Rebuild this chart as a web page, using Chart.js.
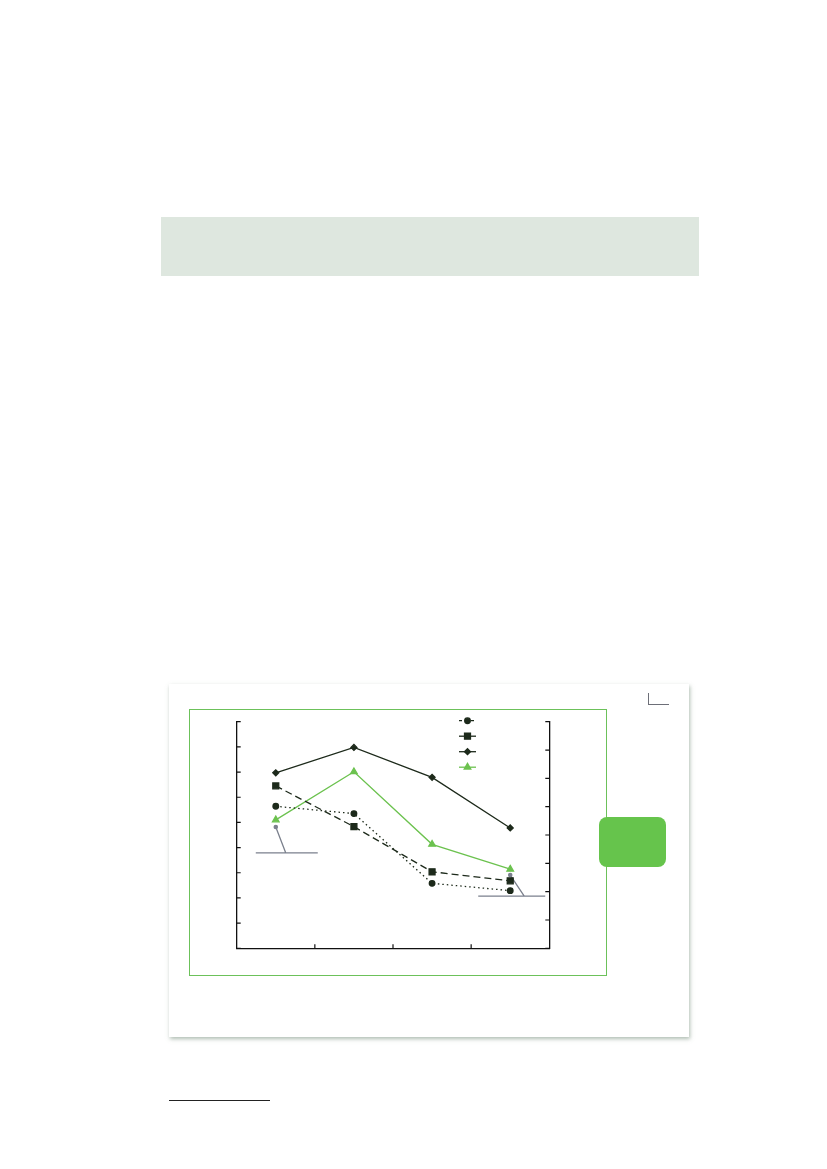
<!DOCTYPE html>
<html>
<head>
<meta charset="utf-8">
<script src="https://cdn.jsdelivr.net/npm/chart.js@4.4.0/dist/chart.umd.min.js"></script>
<style>
  html, body { margin: 0; padding: 0; background: #fff; }
  body { width: 827px; height: 1169px; position: relative; overflow: hidden; font-family: "Noto Sans", sans-serif; }
  .header-band { position: absolute; left: 161px; top: 217px; width: 538px; height: 59px; background: #dee7df; }
  .card { position: absolute; left: 169px; top: 684px; width: 520px; height: 353px; background: #fff;
          box-shadow: 1px 2px 4px rgba(110, 135, 115, 0.55); }
  .frame { position: absolute; left: 189px; top: 709px; width: 416px; height: 265px; border: 1.2px solid #6cc15a; }
  .corner { position: absolute; left: 648px; top: 693px; width: 20px; height: 11px;
            border-left: 1.2px solid #6d6f78; border-bottom: 1.2px solid #6d6f78; }
  .tab { position: absolute; left: 599px; top: 817px; width: 67px; height: 50px; background: #66c44c; border-radius: 8px; }
  .chart-box { position: absolute; left: 189px; top: 709px; width: 418px; height: 267px; }
  .footnote-rule { position: absolute; left: 169px; top: 1100px; width: 101px; height: 1.3px; background: #222; }
</style>
</head>
<body>
<div class="header-band"></div>
<div class="card"></div>
<div class="frame"></div>
<div class="corner"></div>
<div class="chart-box"><canvas id="lineChart"></canvas></div>
<div class="tab"></div>
<div class="footnote-rule"></div>

<script>
// Data (left axis in units of one tick interval)
const categories = ['1', '2', '3', '4'];
const circleSeries = [5.64, 5.35, 2.58, 2.29];
const squareSeries = [6.45, 4.83, 3.04, 2.68];
const diamondSeries = [6.97, 7.98, 6.79, 4.78];
const triangleSeries = [5.10, 7.01, 4.13, 3.14];
const calloutPoints = [4.82, null, null, 2.91];

const leftTicks = { min: 0, max: 9, step: 1 };
const rightTicks = { min: 0, max: 8, step: 1 };

const DARK = '#1d2a1b';
const GREEN = '#6cc24f';
const GREY = '#7b808d';

// Inward tick marks on all three axes, drawn from the scales
const tickMarks = {
    id: 'tickMarks',
    afterDraw(chart) {
        const { ctx, chartArea, scales } = chart;
        const len = 4;
        ctx.save();
        ctx.strokeStyle = '#111';
        ctx.lineWidth = 1.2;
        ctx.beginPath();
        scales.y.ticks.forEach((t, i) => {
            const y = scales.y.getPixelForTick(i);
            ctx.moveTo(chartArea.left, y);
            ctx.lineTo(chartArea.left + len, y);
        });
        scales.y2.ticks.forEach((t, i) => {
            const y = scales.y2.getPixelForTick(i);
            ctx.moveTo(chartArea.right, y);
            ctx.lineTo(chartArea.right - len, y);
        });
        for (let i = 0; i < categories.length - 1; i++) {
            const x = (scales.x.getPixelForValue(i) + scales.x.getPixelForValue(i + 1)) / 2;
            ctx.moveTo(x, chartArea.bottom);
            ctx.lineTo(x, chartArea.bottom - len);
        }
        ctx.stroke();
        ctx.restore();
    }
};

// Leader lines from the grey callout dots
const callouts = {
    id: 'callouts',
    beforeDatasetsDraw(chart) {
        const meta = chart.getDatasetMeta(4);
        const legs = [
            { dx: 10, dy: 26, from: -20, to: 42 },
            null, null,
            { dx: 14, dy: 21, from: -32, to: 35 }
        ];
        const ctx = chart.ctx;
        ctx.save();
        ctx.strokeStyle = GREY;
        ctx.lineWidth = 1.3;
        meta.data.forEach((pt, i) => {
            const leg = legs[i];
            if (!leg || calloutPoints[i] == null) return;
            ctx.beginPath();
            ctx.moveTo(pt.x, pt.y);
            ctx.lineTo(pt.x + leg.dx, pt.y + leg.dy);
            ctx.moveTo(pt.x + leg.from, pt.y + leg.dy);
            ctx.lineTo(pt.x + leg.to, pt.y + leg.dy);
            ctx.stroke();
        });
        ctx.restore();
    }
};

// Legend samples (line + marker), label text is blank in the source
const sampleLegend = {
    id: 'sampleLegend',
    afterDraw(chart) {
        const ctx = chart.ctx;
        const x0 = 270, x1 = 287, top = 11.7, gap = 15.5;
        chart.data.datasets.slice(0, 4).forEach((ds, i) => {
            const y = top + i * gap;
            ctx.save();
            ctx.strokeStyle = ds.borderColor;
            ctx.lineWidth = ds.borderWidth;
            ctx.setLineDash(i === 0 ? [3, 3] : []);
            ctx.beginPath();
            ctx.moveTo(x0, y);
            ctx.lineTo(x1, y);
            ctx.stroke();
            ctx.setLineDash([]);
            ctx.fillStyle = ds.pointBackgroundColor;
            ctx.strokeStyle = ds.pointBackgroundColor;
            Chart.helpers.drawPoint(ctx, {
                pointStyle: ds.pointStyle,
                radius: ds.pointRadius,
                borderWidth: 1,
                rotation: 0
            }, (x0 + x1) / 2, y);
            ctx.restore();
        });
    }
};

function zeroWidth(scale) { scale.width = 0; }
function zeroHeight(scale) { scale.height = 0; }

new Chart(document.getElementById('lineChart'), {
    type: 'line',
    data: {
        labels: categories,
        datasets: [
            {
                label: 'Series A',
                data: circleSeries,
                borderColor: DARK,
                borderWidth: 1.3,
                borderDash: [1.5, 3],
                pointStyle: 'circle',
                pointRadius: 2.8,
                pointBackgroundColor: DARK,
                pointBorderColor: DARK,
                tension: 0
            },
            {
                label: 'Series B',
                data: squareSeries,
                borderColor: DARK,
                borderWidth: 1.3,
                borderDash: [7, 4],
                pointStyle: 'rect',
                pointRadius: 4.2,
                pointBackgroundColor: DARK,
                pointBorderColor: DARK,
                tension: 0
            },
            {
                label: 'Series C',
                data: diamondSeries,
                borderColor: DARK,
                borderWidth: 1.3,
                pointStyle: 'rectRot',
                pointRadius: 3,
                pointBackgroundColor: DARK,
                pointBorderColor: DARK,
                tension: 0
            },
            {
                label: 'Series D',
                data: triangleSeries,
                borderColor: GREEN,
                borderWidth: 1.3,
                pointStyle: 'triangle',
                pointRadius: 3.8,
                pointBackgroundColor: GREEN,
                pointBorderColor: GREEN,
                tension: 0
            },
            {
                label: 'callout',
                data: calloutPoints,
                showLine: false,
                pointStyle: 'circle',
                pointRadius: 2.3,
                pointBackgroundColor: GREY,
                pointBorderColor: GREY,
                borderColor: GREY,
                borderWidth: 0
            }
        ]
    },
    options: {
        responsive: true,
        maintainAspectRatio: false,
        animation: false,
        events: [],
        layout: {
            padding: { left: 47.7, right: 57.7, top: 12.7, bottom: 27.7 }
        },
        plugins: {
            legend: { display: false },
            tooltip: { enabled: false }
        },
        scales: {
            x: {
                type: 'category',
                offset: true,
                grid: { display: false, drawTicks: false },
                border: { display: true, color: '#111', width: 1.3 },
                ticks: { display: false },
                afterFit: zeroHeight
            },
            y: {
                position: 'left',
                min: leftTicks.min,
                max: leftTicks.max,
                ticks: { display: false, stepSize: leftTicks.step },
                grid: { display: false, drawTicks: false },
                border: { display: true, color: '#111', width: 1.3 },
                afterFit: zeroWidth
            },
            y2: {
                position: 'right',
                min: rightTicks.min,
                max: rightTicks.max,
                ticks: { display: false, stepSize: rightTicks.step },
                grid: { display: false, drawTicks: false },
                border: { display: true, color: '#111', width: 1.3 },
                afterFit: zeroWidth
            }
        }
    },
    plugins: [tickMarks, callouts, sampleLegend]
});
</script>
</body>
</html>
